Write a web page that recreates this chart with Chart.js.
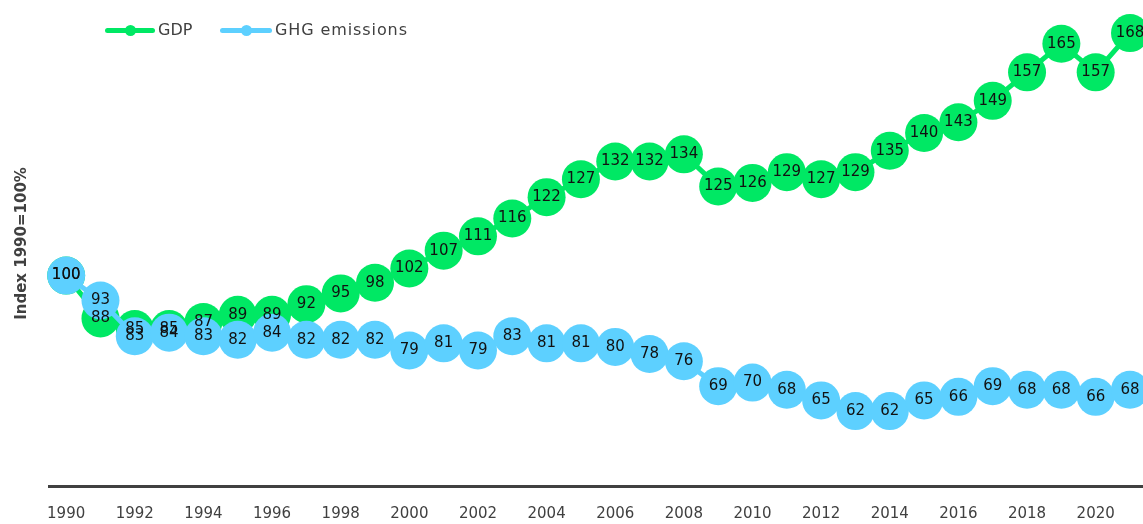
<!DOCTYPE html>
<html>
<head>
<meta charset="utf-8">
<script src="https://cdn.jsdelivr.net/npm/chart.js@4.4.1/dist/chart.umd.min.js"></script>
<style>
  html, body { margin: 0; padding: 0; background: #fff; overflow: hidden; }
  #wrap { position: relative; width: 1143px; height: 524px; overflow: hidden; }
  #box { position: absolute; left: 0; top: 0; width: 1149px; height: 545px; }
  .legend { position: absolute; top: 20px; font: 16px "DejaVu Sans", sans-serif; color: #404040; }
  .legend span { position: absolute; white-space: nowrap; }
  .key { position: absolute; height: 5px; border-radius: 3px; }
  .key i { position: absolute; left: 50%; top: 50%; width: 11px; height: 11px; margin: -5.5px 0 0 -5.5px; border-radius: 50%; background: inherit; }
</style>
</head>
<body>
<div id="wrap">
  <div id="box"><canvas id="chart"></canvas></div>
  <div class="legend" style="left:0">
    <div class="key" style="left:105px; top:8px; width:50px; background:#00e864"><i></i></div>
    <span style="left:158px; top:0">GDP</span>
    <div class="key" style="left:220px; top:8px; width:52px; background:#5dd0ff"><i></i></div>
    <span style="left:275px; top:0; letter-spacing:0.9px">GHG emissions</span>
  </div>
</div>
<script>
// years on the x axis
const years = [1990, 1991, 1992, 1993, 1994, 1995, 1996, 1997, 1998, 1999,
               2000, 2001, 2002, 2003, 2004, 2005, 2006, 2007, 2008, 2009,
               2010, 2011, 2012, 2013, 2014, 2015, 2016, 2017, 2018, 2019,
               2020, 2021];

// index, 1990 = 100
const gdp = [100, 88, 85, 85, 87, 89, 89, 92, 95, 98,
             102, 107, 111, 116, 122, 127, 132, 132, 134, 125,
             126, 129, 127, 129, 135, 140, 143, 149, 157, 165,
             157, 168];

const ghg = [100, 93, 83, 84, 83, 82, 84, 82, 82, 82,
             79, 81, 79, 83, 81, 81, 80, 78, 76, 69,
             70, 68, 65, 62, 62, 65, 66, 69, 68, 68,
             66, 68];

const GREEN = '#00e864';
const BLUE = '#5dd0ff';

// labels inside the bubbles
const pointLabels = {
    id: 'pointLabels',
    afterDatasetsDraw(chart) {
        const ctx = chart.ctx;
        ctx.save();
        ctx.font = '15px "DejaVu Sans", sans-serif';
        ctx.fillStyle = '#111';
        ctx.textAlign = 'center';
        ctx.textBaseline = 'middle';
        chart.data.datasets.forEach((ds, i) => {
            chart.getDatasetMeta(i).data.forEach((pt, j) => {
                ctx.fillText(ds.data[j], pt.x, pt.y);
            });
        });
        ctx.restore();
    }
};

new Chart(document.getElementById('chart'), {
    type: 'line',
    data: {
        labels: years,
        datasets: [
            {
                label: 'GDP',
                data: gdp,
                borderColor: GREEN,
                backgroundColor: GREEN,
                borderWidth: 5,
                pointRadius: 19,
                pointHoverRadius: 19,
                pointBorderWidth: 0,
                order: 1
            },
            {
                label: 'GHG emissions',
                data: ghg,
                borderColor: BLUE,
                backgroundColor: BLUE,
                borderWidth: 5,
                pointRadius: 19,
                pointHoverRadius: 19,
                pointBorderWidth: 0,
                order: 0
            }
        ]
    },
    options: {
        responsive: true,
        maintainAspectRatio: false,
        animation: false,
        clip: false,
        layout: { autoPadding: false, padding: { top: 1, right: 0, left: 0, bottom: 3 } },
        plugins: {
            legend: { display: false },
            tooltip: { enabled: false }
        },
        scales: {
            x: {
                offset: true,
                grid: { display: false, drawTicks: false },
                border: { display: true, color: '#404040', width: 3 },
                ticks: {
                    autoSkip: false,
                    maxRotation: 0,
                    padding: 19,
                    color: '#404040',
                    font: { family: '"DejaVu Sans", sans-serif', size: 15 },
                    callback: function (v, i) { return i % 2 === 0 ? years[i] : ''; }
                }
            },
            y: {
                min: 41,
                max: 177,
                grid: { display: false },
                border: { display: false },
                ticks: { display: false },
                title: {
                    display: true,
                    text: 'Index 1990=100%',
                    color: '#404040',
                    padding: { top: 13, bottom: 10 },
                    font: { family: '"DejaVu Sans", sans-serif', size: 15, weight: 'bold' }
                }
            }
        }
    },
    plugins: [pointLabels]
});
</script>
</body>
</html>
